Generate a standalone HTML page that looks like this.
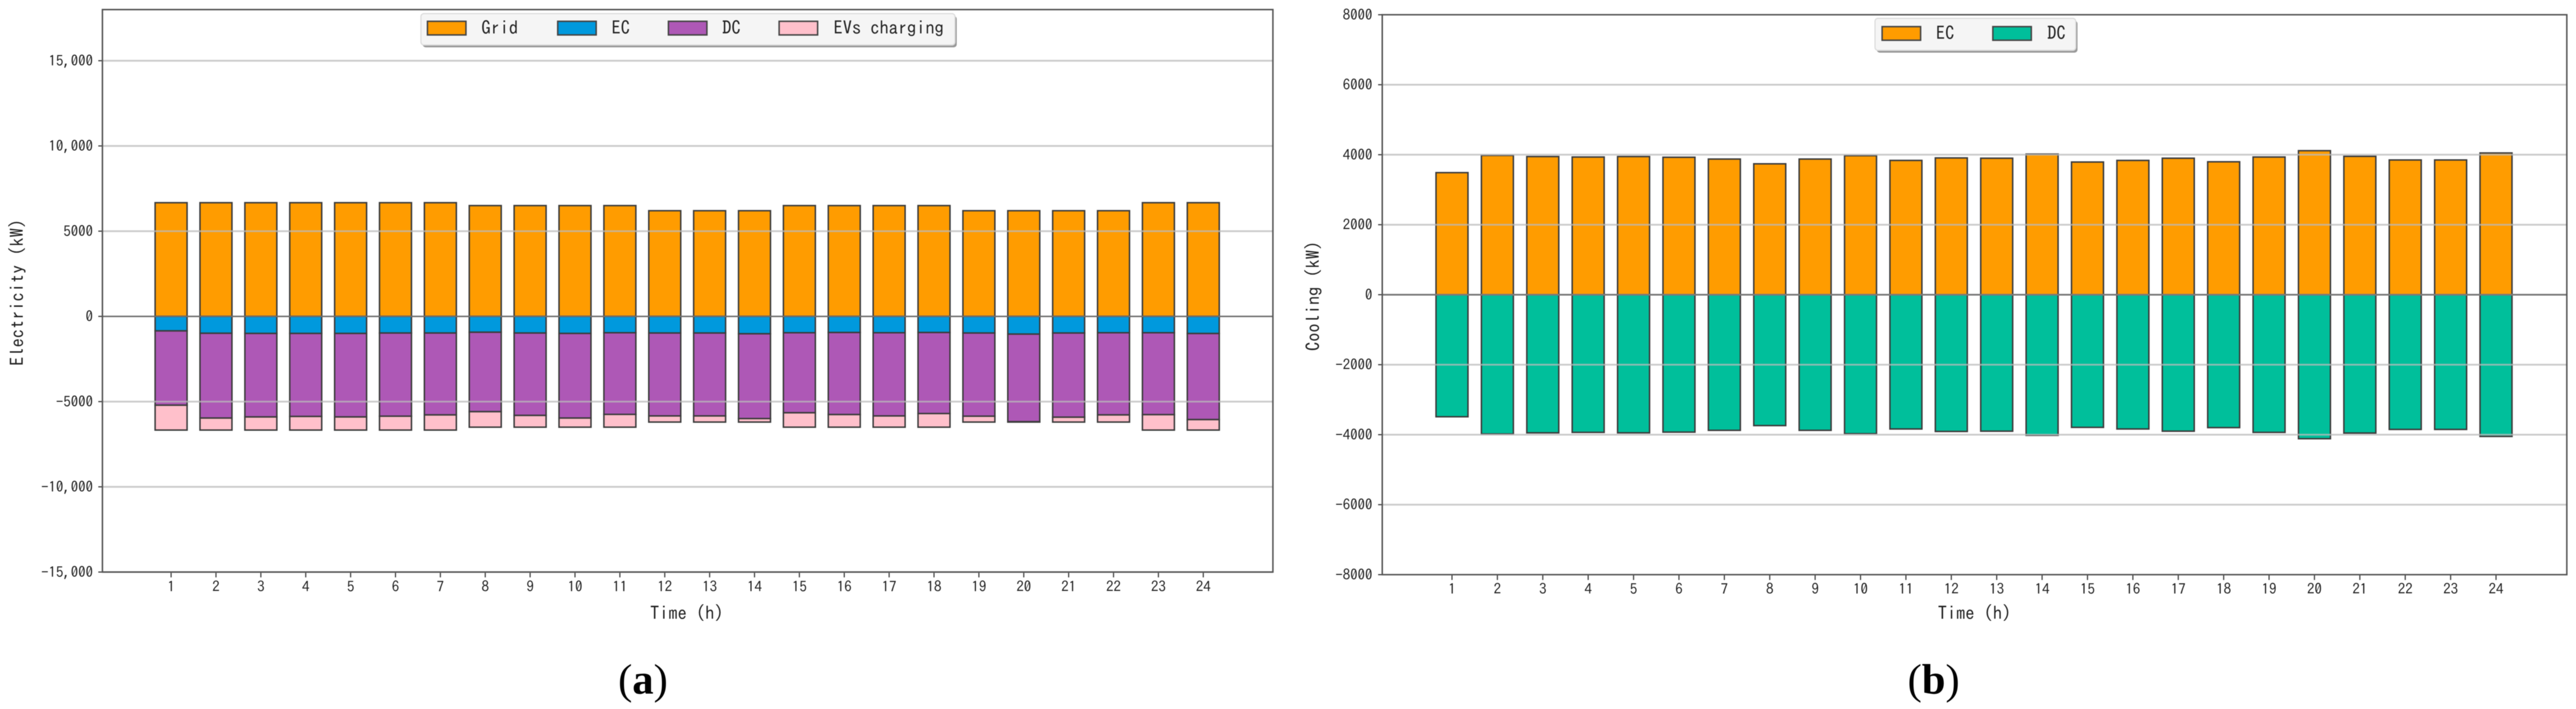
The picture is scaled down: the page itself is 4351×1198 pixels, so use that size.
<!DOCTYPE html>
<html lang="en">
<head>
<meta charset="utf-8">
<title>Electricity and cooling balance</title>
<style>
html,body{margin:0;padding:0;background:#fff;width:4351px;height:1198px;overflow:hidden}
svg{display:block;filter:blur(0.6px)}
.lbl{font-family:"IPAGothic","Liberation Mono",monospace;fill:#222}
.tick{font-size:25px}
.title{font-size:31px}
.leg{font-size:31px}
.cap{font-family:"Liberation Serif",serif;font-size:72px;fill:#000}
</style>
</head>
<body>
<svg id="root" xmlns="http://www.w3.org/2000/svg" width="4351" height="1198" viewBox="0 0 4351 1198">
  <rect x="0" y="0" width="4351" height="1198" fill="#fff"/>
  <g id="chart-a"></g>
  <g id="chart-b"></g>

  <text class="lbl title" x="1160" y="1047" text-anchor="middle">Time (h)</text>
  <text class="lbl title" transform="translate(40,494) rotate(-90)" text-anchor="middle">Electricity (kW)</text>
  <text class="lbl title" x="3335" y="1047" text-anchor="middle">Time (h)</text>
  <text class="lbl title" transform="translate(2229,500) rotate(-90)" text-anchor="middle">Cooling (kW)</text>

  <g>
    <rect x="714" y="27" width="902" height="53" rx="5" fill="#999"/>
    <rect x="711" y="23" width="902" height="53" rx="5" fill="#f5f5f5" stroke="#ddd" stroke-width="2"/>
    <rect x="722" y="36" width="65" height="23" fill="#FF9C00" stroke="#444" stroke-width="2.5"/>
    <text class="lbl leg" x="813" y="58">Grid</text>
    <rect x="942" y="36" width="65" height="23" fill="#0099DD" stroke="#444" stroke-width="2.5"/>
    <text class="lbl leg" x="1033" y="58">EC</text>
    <rect x="1129" y="36" width="65" height="23" fill="#AE58B6" stroke="#444" stroke-width="2.5"/>
    <text class="lbl leg" x="1220" y="58">DC</text>
    <rect x="1316" y="36" width="65" height="23" fill="#FFC0CB" stroke="#444" stroke-width="2.5"/>
    <text class="lbl leg" x="1408" y="58">EVs charging</text>
  </g>

  <g>
    <rect x="3170" y="35" width="339" height="54" rx="5" fill="#999"/>
    <rect x="3167" y="31" width="339" height="54" rx="5" fill="#f5f5f5" stroke="#ddd" stroke-width="2"/>
    <rect x="3179" y="45" width="65" height="23" fill="#FF9C00" stroke="#444" stroke-width="2.5"/>
    <text class="lbl leg" x="3270" y="67">EC</text>
    <rect x="3366" y="45" width="65" height="23" fill="#00BF9B" stroke="#444" stroke-width="2.5"/>
    <text class="lbl leg" x="3458" y="67">DC</text>
  </g>

  <text class="cap" x="1044" y="1172">(<tspan font-weight="bold">a</tspan>)</text>
  <text class="cap" x="3222" y="1172">(<tspan font-weight="bold">b</tspan>)</text>
</svg>

<script>
// Shared categories
var hours = [1,2,3,4,5,6,7,8,9,10,11,12,13,14,15,16,17,18,19,20,21,22,23,24];

// Panel (a) electricity values, kW
var gridValues = [6670,6670,6670,6670,6670,6670,6670,6500,6500,6500,6500,6200,6200,6200,6500,6500,6500,6500,6200,6200,6200,6200,6670,6670];
var ecElecValues = [850,990,1000,1000,1000,975,975,930,975,1000,960,975,975,1020,960,945,960,945,975,1040,975,960,960,1005];
var dcElecValues = [4360,4975,4900,4870,4900,4880,4805,4660,4835,4965,4790,4865,4865,4975,4695,4815,4880,4755,4880,5140,4940,4820,4805,5050];
var evValues = [1460,705,770,800,770,815,890,910,690,535,750,360,360,205,845,740,660,800,345,20,285,420,905,615];
var elecTickValues = [15000,10000,5000,0,-5000,-10000,-15000];
var elecTickLabels = ["15,000","10,000","5000","0","-5000","-10,000","-15,000"];

// Panel (b) cooling values, kW
var ecCoolValues = [3488,3980,3947,3934,3947,3927,3876,3740,3876,3973,3837,3908,3900,4018,3791,3837,3900,3798,3934,4115,3953,3850,3850,4050];
var dcCoolValues = [3488,3980,3947,3934,3947,3927,3876,3740,3876,3973,3837,3908,3900,4018,3791,3837,3900,3798,3934,4115,3953,3850,3850,4050];
var coolTickValues = [6000,4000,2000,0,-2000,-4000,-6000,-8000];
var coolTickLabels = ["6000","4000","2000","0","-2000","-4000","-6000","-8000"];

var SVGNS = "http://www.w3.org/2000/svg";
var BORDER = "#3c3c3c";

function mk(tag, parent) {
  var el = document.createElementNS(SVGNS, tag);
  parent.appendChild(el);
  return el;
}
function line(el, x1, y1, x2, y2, color, w) {
  el.setAttribute("x1", x1); el.setAttribute("y1", y1);
  el.setAttribute("x2", x2); el.setAttribute("y2", y2);
  el.setAttribute("stroke", color); el.setAttribute("stroke-width", w);
}
function box(el, x, y0, y1, w, fill) {
  el.setAttribute("x", x - w / 2);
  el.setAttribute("y", Math.min(y0, y1));
  el.setAttribute("width", w);
  el.setAttribute("height", Math.abs(y1 - y0));
  el.setAttribute("fill", fill);
  el.setAttribute("stroke", BORDER);
  el.setAttribute("stroke-width", 2.5);
}

/* ---------- Panel (a) ---------- */
var gA = document.getElementById("chart-a");
var A = {left:173, right:2150, top:16.2, bottom:966.6, yMax:18000, yMin:-15000, x1:289, dx:75.8, barW:54};
function xA(h) { return A.x1 + (h - 1) * A.dx; }
function yA(v) { return A.top + (A.yMax - v) * (A.bottom - A.top) / (A.yMax - A.yMin); }

var plotA = mk("rect", gA);


plotA.setAttribute("x", A.left); plotA.setAttribute("y", A.top);
plotA.setAttribute("width", A.right - A.left); plotA.setAttribute("height", A.bottom - A.top);
plotA.setAttribute("fill", "#fff");

hours.forEach(function (h, i) {
  var up = mk("rect", gA);
  
  
  box(up, xA(h), yA(0), yA(gridValues[i]), A.barW, "#FF9C00");

  var s1 = -ecElecValues[i];
  var ec = mk("rect", gA);
  
  
  box(ec, xA(h), yA(0), yA(s1), A.barW, "#0099DD");

  var s2 = s1 - dcElecValues[i];
  var dc = mk("rect", gA);
  
  
  box(dc, xA(h), yA(s1), yA(s2), A.barW, "#AE58B6");

  var s3 = s2 - evValues[i];
  var ev = mk("rect", gA);
  
  
  box(ev, xA(h), yA(s2), yA(s3), A.barW, "#FFC0CB");

  var t = mk("line", gA);
  
  
  line(t, xA(h), A.bottom, xA(h), A.bottom + 9, "#444", 2);

  var l = mk("text", gA);
  
  
  l.setAttribute("class", "lbl tick");
  l.setAttribute("x", xA(h)); l.setAttribute("y", 1000);
  l.setAttribute("text-anchor", "middle");
  l.textContent = h;
});

elecTickValues.forEach(function (v, i) {
  var g = mk("line", gA);
  
  
  if (v === 0) { line(g, A.left, yA(v), A.right, yA(v), "#6e6e6e", 2.5); }
  else { line(g, A.left, yA(v), A.right, yA(v), "rgba(185,185,185,0.75)", 3); }

  var t = mk("line", gA);
  
  
  line(t, A.left - 7, yA(v), A.left, yA(v), "#444", 2);

  var l = mk("text", gA);
  
  
  l.setAttribute("class", "lbl tick");
  l.setAttribute("x", 157); l.setAttribute("y", yA(v) + 9);
  l.setAttribute("text-anchor", "end");
  l.textContent = elecTickLabels[i];
});

var frameA = mk("rect", gA);


frameA.setAttribute("x", A.left); frameA.setAttribute("y", A.top);
frameA.setAttribute("width", A.right - A.left); frameA.setAttribute("height", A.bottom - A.top);
frameA.setAttribute("fill", "none");
frameA.setAttribute("stroke", "#555");
frameA.setAttribute("stroke-width", 2.5);

/* ---------- Panel (b) ---------- */
var gB = document.getElementById("chart-b");
var B = {left:2334.7, right:4335.5, top:24.9, bottom:971, yMax:8000, yMin:-8000, x1:2452.5, dx:76.67, barW:54};
function xB(h) { return B.x1 + (h - 1) * B.dx; }
function yB(v) { return B.top + (B.yMax - v) * (B.bottom - B.top) / (B.yMax - B.yMin); }

var plotB = mk("rect", gB);


plotB.setAttribute("x", B.left); plotB.setAttribute("y", B.top);
plotB.setAttribute("width", B.right - B.left); plotB.setAttribute("height", B.bottom - B.top);
plotB.setAttribute("fill", "#fff");

hours.forEach(function (h, i) {
  var up = mk("rect", gB);
  
  
  box(up, xB(h), yB(0), yB(ecCoolValues[i]), B.barW, "#FF9C00");

  var dn = mk("rect", gB);
  
  
  box(dn, xB(h), yB(0), yB(-dcCoolValues[i]), B.barW, "#00BF9B");

  var t = mk("line", gB);
  
  
  line(t, xB(h), B.bottom, xB(h), B.bottom + 9, "#444", 2);

  var l = mk("text", gB);
  
  
  l.setAttribute("class", "lbl tick");
  l.setAttribute("x", xB(h)); l.setAttribute("y", 1004);
  l.setAttribute("text-anchor", "middle");
  l.textContent = h;
});

coolTickValues.forEach(function (v, i) {
  var g = mk("line", gB);
  
  
  if (v === 0) { line(g, B.left, yB(v), B.right, yB(v), "#7a7a7a", 3); }
  else if (v === -8000) { g.setAttribute("visibility", "hidden"); line(g, B.left, yB(v), B.right, yB(v), "#555", 1); }
  else { line(g, B.left, yB(v), B.right, yB(v), "rgba(185,185,185,0.75)", 3); }

  var t = mk("line", gB);
  
  
  line(t, B.left - 7, yB(v), B.left, yB(v), "#444", 2);

  var l = mk("text", gB);
  
  
  l.setAttribute("class", "lbl tick");
  l.setAttribute("x", 2318); l.setAttribute("y", yB(v) + 9);
  l.setAttribute("text-anchor", "end");
  l.textContent = coolTickLabels[i];
});

var frameB = mk("rect", gB);


frameB.setAttribute("x", B.left); frameB.setAttribute("y", B.top);
frameB.setAttribute("width", B.right - B.left); frameB.setAttribute("height", B.bottom - B.top);
frameB.setAttribute("fill", "none");
frameB.setAttribute("stroke", "#555");
frameB.setAttribute("stroke-width", 2.5);

var topTickB = mk("line", gB);


line(topTickB, B.left - 7, B.top, B.left, B.top, "#444", 2);

var topLabelB = mk("text", gB);


topLabelB.setAttribute("class", "lbl tick");
topLabelB.setAttribute("x", 2318); topLabelB.setAttribute("y", B.top + 9);
topLabelB.setAttribute("text-anchor", "end");
topLabelB.textContent = "8000";
</script>
</body>
</html>
